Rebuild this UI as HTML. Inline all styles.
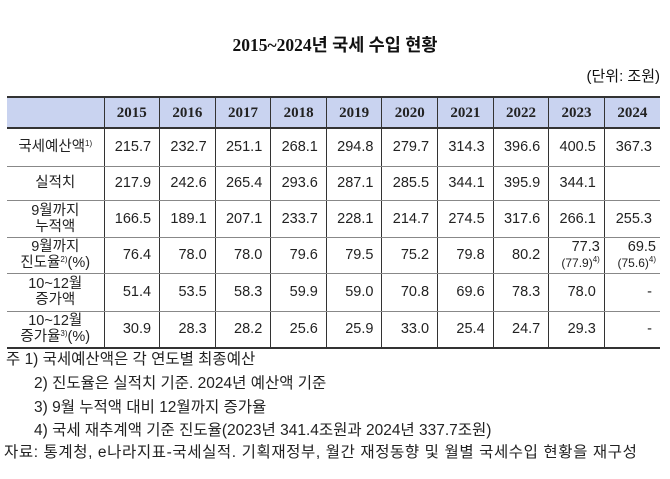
<!DOCTYPE html>
<html><head><meta charset="utf-8"><style>
body{margin:0;background:#fff;width:670px;height:479px;position:relative;font-family:"Liberation Serif","Noto Serif CJK SC","Noto Sans CJK KR",serif;color:#111;overflow:hidden}
.t{position:absolute;left:0;width:670px;top:32px;text-align:center;font-weight:bold;font-size:17.5px;font-family:"Liberation Serif","Noto Sans CJK KR",serif}
.u{position:absolute;right:10px;top:65px;font-size:15px;font-family:"Liberation Sans","Noto Sans CJK KR",sans-serif}
table{position:absolute;left:7px;top:96px;border-collapse:collapse;table-layout:fixed;width:653px}
td{border-left:1px solid #333;border-right:1px solid #333;border-bottom:1px solid #888;text-align:center;font-size:14.5px;padding:0;line-height:16px;font-family:"Liberation Sans","Noto Sans CJK KR",sans-serif;color:#222}
tr.h td{background:#c9d3f0;font-weight:bold;font-family:"Liberation Serif",serif;font-size:15px;border-bottom:2px solid #333;border-top:2px solid #333}
td:first-child{border-left:none}td:last-child{border-right:none}
td.n{text-align:right;padding-right:8px}
td.l{font-size:14.5px}
sup{font-size:8px;vertical-align:5px;line-height:0}
small{font-size:12px}
tr.last td{border-bottom:2px solid #333}
.nt{position:absolute;left:6px;font-size:15.5px;font-family:"Liberation Sans","Noto Sans CJK KR",sans-serif;color:#222}
</style></head><body>
<div class="t">2015~2024년 국세 수입 현황</div>
<div class="u">(단위: 조원)</div>
<table>
<colgroup><col style="width:97px"><col span="10" style="width:55.6px"></colgroup>
<tr class="h" style="height:31px"><td></td><td>2015</td><td>2016</td><td>2017</td><td>2018</td><td>2019</td><td>2020</td><td>2021</td><td>2022</td><td>2023</td><td>2024</td></tr>
<tr style="height:38px"><td class="l">국세예산액<sup>1)</sup></td><td class="n">215.7</td><td class="n">232.7</td><td class="n">251.1</td><td class="n">268.1</td><td class="n">294.8</td><td class="n">279.7</td><td class="n">314.3</td><td class="n">396.6</td><td class="n">400.5</td><td class="n">367.3</td></tr>
<tr style="height:34px"><td class="l">실적치</td><td class="n">217.9</td><td class="n">242.6</td><td class="n">265.4</td><td class="n">293.6</td><td class="n">287.1</td><td class="n">285.5</td><td class="n">344.1</td><td class="n">395.9</td><td class="n">344.1</td><td></td></tr>
<tr style="height:37px"><td class="l">9월까지<br>누적액</td><td class="n">166.5</td><td class="n">189.1</td><td class="n">207.1</td><td class="n">233.7</td><td class="n">228.1</td><td class="n">214.7</td><td class="n">274.5</td><td class="n">317.6</td><td class="n">266.1</td><td class="n">255.3</td></tr>
<tr style="height:36px"><td class="l">9월까지<br>진도율<sup>2)</sup>(%)</td><td class="n">76.4</td><td class="n">78.0</td><td class="n">78.0</td><td class="n">79.6</td><td class="n">79.5</td><td class="n">75.2</td><td class="n">79.8</td><td class="n">80.2</td><td class="n" style="padding-right:4px">77.3<br><small>(77.9)<sup>4)</sup></small></td><td class="n" style="padding-right:4px">69.5<br><small>(75.6)<sup>4)</sup></small></td></tr>
<tr style="height:38px"><td class="l">10~12월<br>증가액</td><td class="n">51.4</td><td class="n">53.5</td><td class="n">58.3</td><td class="n">59.9</td><td class="n">59.0</td><td class="n">70.8</td><td class="n">69.6</td><td class="n">78.3</td><td class="n">78.0</td><td class="n">-</td></tr>
<tr class="last" style="height:37px"><td class="l">10~12월<br>증가율<sup>3)</sup>(%)</td><td class="n">30.9</td><td class="n">28.3</td><td class="n">28.2</td><td class="n">25.6</td><td class="n">25.9</td><td class="n">33.0</td><td class="n">25.4</td><td class="n">24.7</td><td class="n">29.3</td><td class="n">-</td></tr>
</table>
<div class="nt" style="top:347px">주 1) 국세예산액은 각 연도별 최종예산</div>
<div class="nt" style="top:371px;left:34px">2) 진도율은 실적치 기준. 2024년 예산액 기준</div>
<div class="nt" style="top:395px;left:34px">3) 9월 누적액 대비 12월까지 증가율</div>
<div class="nt" style="top:418px;left:34px">4) 국세 재추계액 기준 진도율(2023년 341.4조원과 2024년 337.7조원)</div>
<div class="nt" style="top:440px;left:4px;letter-spacing:0.6px">자료: 통계청, e나라지표-국세실적. 기획재정부, 월간 재정동향 및 월별 국세수입 현황을 재구성</div>
</body></html>
